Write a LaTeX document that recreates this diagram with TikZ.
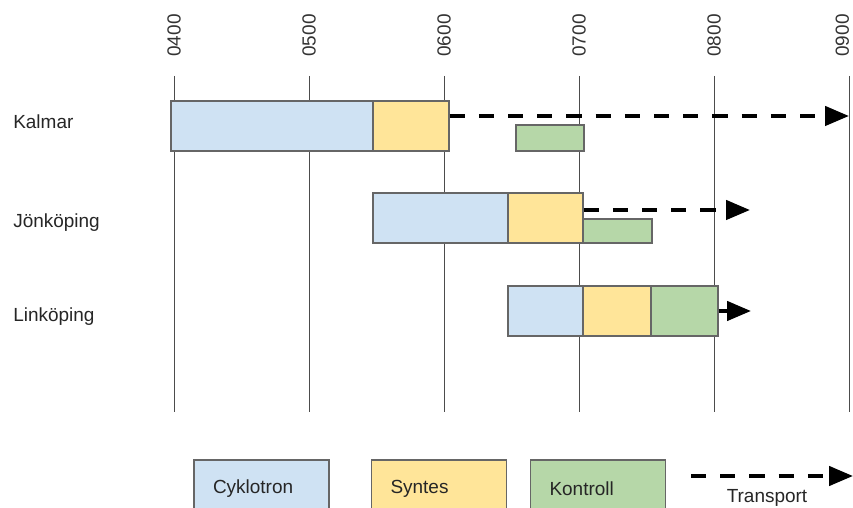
\documentclass[tikz,border=0pt]{standalone}
\usepackage{fontspec}
\setmainfont{Liberation Sans}
\usetikzlibrary{arrows.meta}
\definecolor{cykfill}{HTML}{CFE2F3}
\definecolor{synfill}{HTML}{FFE599}
\definecolor{konfill}{HTML}{B6D7A8}
\tikzset{
  hourline/.style={line width=0.7pt, draw=black!70},
  hourlabel/.style={rotate=90, inner sep=0pt, text=black!80, font=\fontsize{13.5}{16}\selectfont},
  rowlabel/.style={anchor=west, inner sep=0pt, text=black!85, font=\fontsize{13.5}{16}\selectfont},
  phase/.style={rectangle, draw=black!60, line width=0.9pt, inner sep=0pt, minimum height=1.25cm},
  cykbox/.style={phase, fill=cykfill},
  synbox/.style={phase, fill=synfill},
  konbox/.style={phase, fill=konfill},
  legendbox/.style={rectangle, draw=black!60, line width=0.9pt, minimum height=1.45cm, text width=2.425cm, inner xsep=0.475cm, inner ysep=0pt, align=left, text=black!85, font=\fontsize{13.5}{16}\selectfont},
  transport/.style={line width=2.8pt, draw=black, dash pattern=on 0.38cm off 0.35cm, -{Triangle[length=0.6cm, width=0.48cm]}},
}

\begin{document}
\begin{tikzpicture}
\useasboundingbox (0,0) rectangle (21.325,12.700);
\clip (0,0) rectangle (21.325,12.700);
\draw[hourline] (4.350,10.800) -- (4.350,2.400);
\draw[hourline] (7.725,10.800) -- (7.725,2.400);
\draw[hourline] (11.100,10.800) -- (11.100,2.400);
\draw[hourline] (14.475,10.800) -- (14.475,2.400);
\draw[hourline] (17.850,10.800) -- (17.850,2.400);
\draw[hourline] (21.225,10.800) -- (21.225,2.400);
\node[hourlabel] (h4) at (4.350,11.813) {0400};
\node[hourlabel] (h5) at (7.725,11.813) {0500};
\node[hourlabel] (h6) at (11.100,11.813) {0600};
\node[hourlabel] (h7) at (14.475,11.813) {0700};
\node[hourlabel] (h8) at (17.850,11.813) {0800};
\node[hourlabel] (h9) at (21.060,11.813) {0900};
\node[rowlabel] (kalmar) at (0.325,9.650) {Kalmar};
\node[rowlabel] (jonkoping) at (0.325,7.125) {Jönköping};
\node[rowlabel] (linkoping) at (0.325,4.775) {Linköping};
\node[cykbox, minimum width=5.050cm] (kalcyk) at (6.800,9.550) {};
\node[synbox, minimum width=1.900cm] (kalsyn) at (10.275,9.550) {};
\node[konbox, minimum width=1.700cm, minimum height=0.650cm] (kalkon) at (13.750,9.250) {};
\node[cykbox, minimum width=3.375cm] (jkpcyk) at (11.013,7.250) {};
\node[synbox, minimum width=1.875cm] (jkpsyn) at (13.638,7.250) {};
\node[konbox, minimum width=1.725cm, minimum height=0.600cm] (jkpkon) at (15.438,6.925) {};
\node[cykbox, minimum width=1.875cm] (lkpcyk) at (13.638,4.925) {};
\node[synbox, minimum width=1.700cm] (lkpsyn) at (15.425,4.925) {};
\node[konbox, minimum width=1.675cm] (lkpkon) at (17.113,4.925) {};
\coordinate (kalend) at (21.225,9.800);
\coordinate (jkpend) at (18.750,7.450);
\coordinate (lkpend) at (18.775,4.925);
\draw[transport] ([yshift=0.250cm]kalsyn.east) -- (kalend);
\draw[transport] ([yshift=0.200cm]jkpsyn.east) -- (jkpend);
\draw[transport] (lkpkon.east) -- (lkpend);
\node[legendbox, fill=cykfill] (legcyk) at (6.538,0.475) {Cyklotron};
\node[legendbox, fill=synfill] (legsyn) at (10.975,0.475) {Syntes};
\node[legendbox, fill=konfill] (legkon) at (14.950,0.475) {Kontroll};
\coordinate (trstart) at (17.275,0.800);
\coordinate (trend) at (21.325,0.800);
\draw[transport] (trstart) -- (trend);
\node[text=black!85, font=\fontsize{13.5}{16}\selectfont] (transport) at (19.175,0.250) {Transport};
\end{tikzpicture}
\end{document}
